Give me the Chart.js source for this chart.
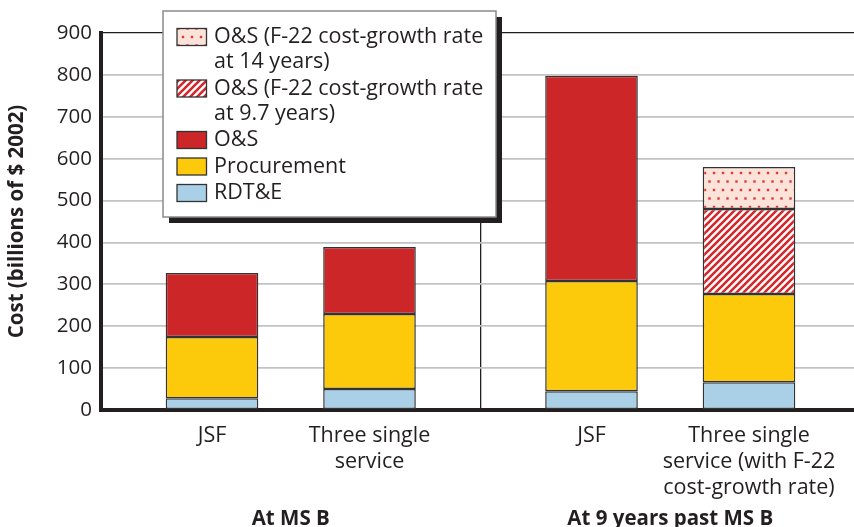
<!DOCTYPE html>
<html>
<head>
<meta charset="utf-8">
<script src="https://cdn.jsdelivr.net/npm/chart.js@4/dist/chart.umd.min.js"></script>
<style>
  html, body { margin: 0; padding: 0; background: #fff; }
  canvas { display: block; }
</style>
</head>
<body>
<canvas id="chart" width="854" height="527"></canvas>
<script>
// phases along the x axis
var phases = ['At MS B', 'At 9 years past MS B'];
// two bars per phase
var stacks = ['JSF', 'Three single service'];
var barLabels = [
  ['JSF'],
  ['Three single', 'service'],
  ['JSF'],
  ['Three single', 'service (with F-22', 'cost-growth rate)']
];
// billions of $ 2002 ; order: JSF @MS B, Three @MS B, JSF @9 yrs, Three @9 yrs
var rdte        = [28, 50, 45, 66];
var procurement = [146, 179, 263, 211];
var os          = [153, 160, 490, null];
var os97        = [null, null, null, 203];
var os14        = [null, null, null, 100];
var yMin = 0, yMax = 900, yStep = 100;

var INK = '#231f20';
var FONT = "'Open Sans', 'Noto Sans', sans-serif";

function makeHatch() {
  var p = 7;
  var c = document.createElement('canvas');
  c.width = p; c.height = p;
  var g = c.getContext('2d');
  g.fillStyle = '#fff';
  g.fillRect(0, 0, p, p);
  g.strokeStyle = '#d2282c';
  g.lineWidth = 2.6;
  g.beginPath();
  g.moveTo(-1, p + 1); g.lineTo(p + 1, -1);
  g.moveTo(-1, 1); g.lineTo(1, -1);
  g.moveTo(p - 1, p + 1); g.lineTo(p + 1, p - 1);
  g.stroke();
  return g.createPattern(c, 'repeat');
}

function makeDots() {
  var c = document.createElement('canvas');
  c.width = 18; c.height = 17;
  var g = c.getContext('2d');
  g.fillStyle = '#fbe3d9';
  g.fillRect(0, 0, 18, 17);
  g.fillStyle = '#e0383b';
  [[3, 3], [12, 3], [7.5, 11.5], [16.5, 11.5]].forEach(function(d) {
    g.fillRect(d[0] - 1.2, d[1] - 1.2, 2.4, 2.4);
  });
  return g.createPattern(c, 'repeat');
}

var series = [
  { label: ['RDT&E'], values: rdte, fill: '#a9d0e7' },
  { label: ['Procurement'], values: procurement, fill: '#fcc90b' },
  { label: ['O&S'], values: os, fill: '#cd2629' },
  { label: ['O&S (F-22 cost-growth rate', 'at 9.7 years)'], values: os97, fill: makeHatch() },
  { label: ['O&S (F-22 cost-growth rate', 'at 14 years)'], values: os14, fill: makeDots() }
];

// one dataset per series and bar; data = [value at MS B, value at 9 years]
var datasets = [];
series.forEach(function(s) {
  stacks.forEach(function(st, k) {
    var d = [s.values[k], s.values[2 + k]];
    if (d[0] === null && d[1] === null) return;
    datasets.push({
      label: s.label.join(' '),
      stack: st,
      data: d,
      backgroundColor: s.fill,
      borderColor: '#333',
      borderWidth: 1.5,
      borderSkipped: false
    });
  });
});

// plot runs a little past the right edge of the picture
var widenPlugin = {
  id: 'widen',
  afterLayout: function(chart) {
    var extra = 6;
    var x = chart.scales.x;
    chart.chartArea.right += extra;
    chart.chartArea.width += extra;
    x.right += extra;
    x.width += extra;
    x.configure();
    var y = chart.scales.y;
    y.configure();
  }
};

// names under each bar, at the x the bar scale gives
var barLabelPlugin = {
  id: 'barLabels',
  afterDraw: function(chart) {
    var ctx = chart.ctx;
    ctx.save();
    ctx.font = '21.5px ' + FONT;
    ctx.fillStyle = INK;
    ctx.textAlign = 'center';
    ctx.textBaseline = 'middle';
    phases.forEach(function(ph, i) {
      stacks.forEach(function(st, k) {
        var di = chart.data.datasets.findIndex(function(ds) { return ds.stack === st && ds.data[i] !== null; });
        if (di < 0) return;
        var x = chart.getDatasetMeta(di).data[i].x;
        barLabels[i * 2 + k].forEach(function(line, n) {
          ctx.fillText(line, x, 436 + n * 26);
        });
      });
    });
    ctx.restore();
  }
};

// boxed legend with drop shadow, over the top of the plot
var legendPlugin = {
  id: 'boxLegend',
  afterDraw: function(chart) {
    var ctx = chart.ctx;
    var bx = 163, by = 11, bw = 333, bh = 206;
    ctx.save();
    ctx.fillStyle = INK;
    ctx.fillRect(bx + 6, by + 6, bw, bh);
    ctx.fillStyle = '#fff';
    ctx.fillRect(bx, by, bw, bh);
    ctx.strokeStyle = '#8a8a8a';
    ctx.lineWidth = 1.5;
    ctx.strokeRect(bx, by, bw, bh);

    ctx.font = '21.5px ' + FONT;
    ctx.textBaseline = 'middle';
    ctx.textAlign = 'left';
    var y = 37;
    series.slice().reverse().forEach(function(s) {
      ctx.fillStyle = s.fill;
      ctx.fillRect(177, y - 8.5, 29.5, 17);
      ctx.strokeStyle = '#333';
      ctx.lineWidth = 1.3;
      ctx.strokeRect(177, y - 8.5, 29.5, 17);
      ctx.fillStyle = INK;
      s.label.forEach(function(line) {
        ctx.fillText(line, 214, y);
        y += 25;
      });
      y += 1.5;
    });
    ctx.restore();
  }
};

new Chart(document.getElementById('chart'), {
  type: 'bar',
  data: { labels: phases, datasets: datasets },
  options: {
    responsive: false,
    animation: false,
    datasets: { bar: { categoryPercentage: 0.83, barPercentage: 0.588 } },
    layout: { padding: { top: 33, right: 0, bottom: 0, left: 0 } },
    plugins: { legend: { display: false }, tooltip: { enabled: false } },
    scales: {
      x: {
        grid: {
          offset: true,
          drawTicks: false,
          color: function(c) { return c.index === 1 ? INK : 'rgba(0,0,0,0)'; },
          lineWidth: 1.3
        },
        border: { color: INK, width: 4 },
        ticks: { padding: 97, color: INK, font: { family: FONT, size: 20.5, weight: 'bold' } },
        afterFit: function(s) { s.height = 117; s.paddingLeft = 0; s.paddingRight = 0; }
      },
      y: {
        stacked: true,
        min: yMin,
        max: yMax,
        ticks: { stepSize: yStep, padding: 9, color: INK, font: { family: FONT, size: 20.5 } },
        grid: {
          drawTicks: false,
          color: function(c) { return c.tick && c.tick.value === yMax ? INK : '#c3c3c3'; },
          lineWidth: function(c) { return c.tick && c.tick.value === yMax ? 1.2 : 1.8; }
        },
        border: { color: INK, width: 4 },
        title: {
          display: true,
          text: 'Cost (billions of $ 2002)',
          color: INK,
          font: { family: FONT, size: 20.5, weight: 'bold' },
          padding: { top: 5, bottom: 0 }
        },
        afterFit: function(s) { s.width = 101; }
      }
    }
  },
  plugins: [widenPlugin, barLabelPlugin, legendPlugin]
});
</script>
</body>
</html>
